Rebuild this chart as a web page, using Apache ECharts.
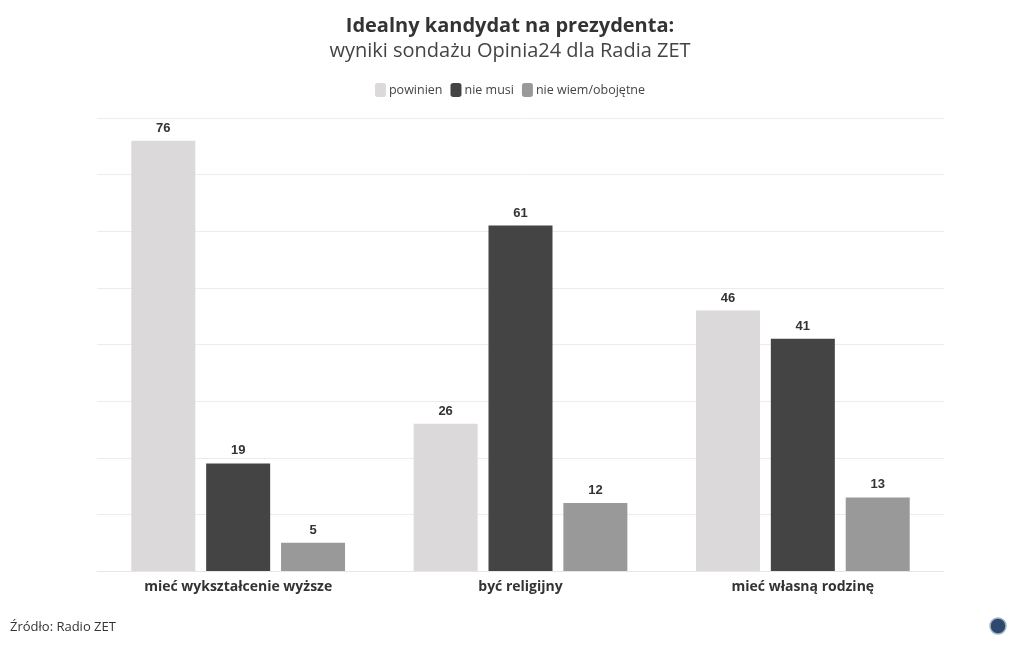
<!DOCTYPE html>
<html>
<head>
<meta charset="utf-8">
<title>Idealny kandydat na prezydenta</title>
<script src="https://cdn.jsdelivr.net/npm/echarts@6/dist/echarts.min.js"></script>
<style>
  html, body { margin: 0; padding: 0; background: #fff; }
  #chart { width: 1020px; height: 650px; }
</style>
</head>
<body>
<div id="chart"></div>
<script>
const categories = ['mieć wykształcenie wyższe', 'być religijny', 'mieć własną rodzinę']
const seriesNames = ['powinien', 'nie musi', 'nie wiem/obojętne']
const powinien = [76, 26, 46]
const nieMusi = [19, 61, 41]
const nieWiem = [5, 12, 13]
const colors = ['#dcd9da', '#444444', '#999999']

const font = '"Open Sans", "Noto Sans", sans-serif'

const chart = echarts.init(document.getElementById('chart'))

function barSeries(name, data, color) {
  return {
    name: name,
    type: 'bar',
    data: data,
    barWidth: 64,
    barGap: '17%',
    barCategoryGap: '24%',
    itemStyle: { color: color },
    label: {
      show: true,
      position: 'top',
      distance: 6,
      color: '#333',
      fontFamily: '"Liberation Sans", Arial, sans-serif',
      fontWeight: 'bold',
      fontSize: 13
    }
  }
}

const option = {
  backgroundColor: '#fff',
  color: colors,
  title: {
    text: 'Idealny kandydat na prezydenta:',
    subtext: 'wyniki sondażu Opinia24 dla Radia ZET',
    left: 'center',
    top: 11,
    itemGap: 5,
    textStyle: { fontFamily: font, fontSize: 20, fontWeight: 'bold', color: '#333' },
    subtextStyle: { fontFamily: font, fontSize: 20, color: '#444' }
  },
  legend: {
    top: 78,
    left: 'center',
    itemWidth: 11,
    itemHeight: 14,
    itemGap: 8,
    icon: 'roundRect',
    textStyle: { fontFamily: font, fontSize: 12.5, color: '#444', padding: [0, 0, 0, -2] },
    data: seriesNames
  },
  grid: { left: 97, right: 76, top: 118, bottom: 79 },
  xAxis: {
    type: 'category',
    data: categories,
    axisLine: { lineStyle: { color: '#e6e6e6' } },
    axisTick: { show: false },
    axisLabel: {
      margin: 9,
      fontFamily: font,
      fontSize: 14,
      fontWeight: 'bold',
      color: '#333'
    }
  },
  yAxis: {
    type: 'value',
    min: 0,
    max: 80,
    interval: 10,
    axisLabel: { show: false },
    axisLine: { show: false },
    axisTick: { show: false },
    splitLine: { lineStyle: { color: '#ececec' } }
  },
  graphic: [
    {
      type: 'text',
      left: 10,
      top: 621,
      style: { text: 'Źródło: Radio ZET', fontFamily: font, fontSize: 13, fill: '#333' }
    },
    {
      type: 'circle',
      shape: { cx: 998, cy: 626, r: 8 },
      style: { fill: '#2d4a6e', stroke: '#9fb4c9', lineWidth: 1.5 }
    }
  ],
  series: [
    barSeries(seriesNames[0], powinien, colors[0]),
    barSeries(seriesNames[1], nieMusi, colors[1]),
    barSeries(seriesNames[2], nieWiem, colors[2])
  ]
}

chart.setOption(option)
</script>
</body>
</html>
